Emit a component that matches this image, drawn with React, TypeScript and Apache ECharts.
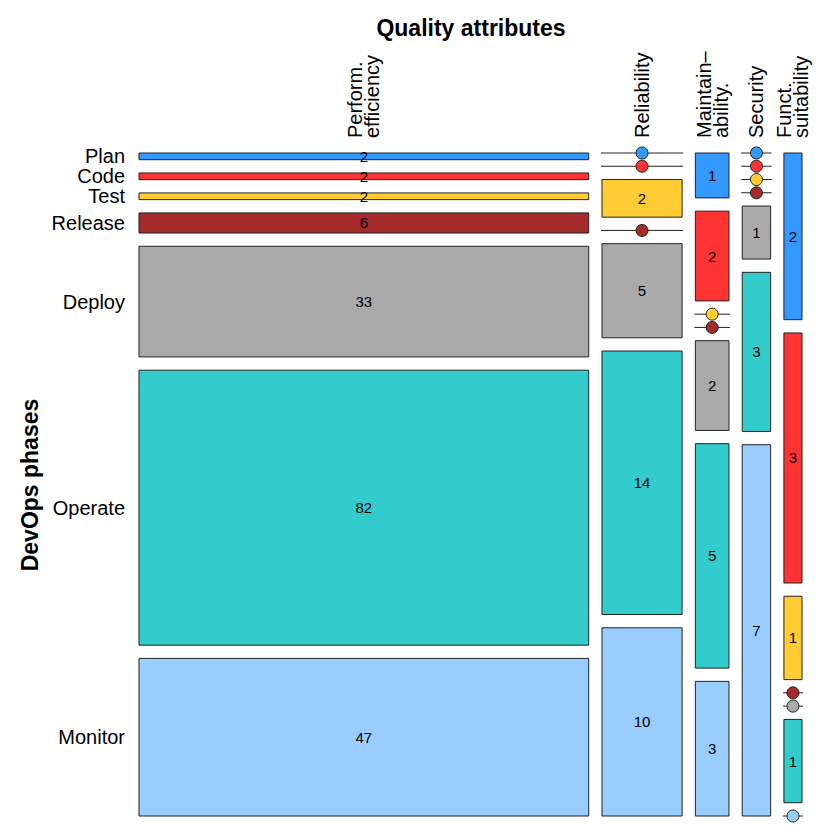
import React, { useEffect, useRef } from 'react';
import * as echarts from 'echarts';

const phases = ['Plan', 'Code', 'Test', 'Release', 'Deploy', 'Operate', 'Monitor'];
const attributes = ['Perform.\nefficiency', 'Reliability', 'Maintain–\nability.', 'Security', 'Funct.\nsuitability'];
const perfEfficiency = [2, 2, 2, 6, 33, 82, 47];
const reliability = [0, 0, 2, 0, 5, 14, 10];
const maintainability = [1, 2, 0, 0, 2, 5, 3];
const security = [0, 0, 0, 0, 1, 3, 7];
const functSuitability = [2, 3, 1, 0, 0, 1, 0];
const phaseColors = ['#3399FF', '#FF3333', '#FFCC33', '#A52A2A', '#AAAAAA', '#33CCCC', '#99CCFF'];

const counts = [perfEfficiency, reliability, maintainability, security, functSuitability];
const GAP = 0.02;
const FONT = '"Liberation Sans", Arial, Helvetica, sans-serif';

function buildCells() {
  const colTotals = counts.map((c) => c.reduce((a, b) => a + b, 0));
  const grand = colTotals.reduce((a, b) => a + b, 0);
  const cells: number[][] = [];
  const colCenters: number[][] = [];
  let x = 0;
  counts.forEach((col, ci) => {
    const w = ((1 - GAP * (counts.length - 1)) * colTotals[ci]) / grand;
    let y = 0;
    col.forEach((v, ri) => {
      const h = ((1 - GAP * (phases.length - 1)) * v) / colTotals[ci];
      cells.push([x, x + w, y, y + h, v, ri, ci]);
      y += h + GAP;
    });
    colCenters.push([x + w / 2, 0, ci]);
    x += w + GAP;
  });
  return { cells, colCenters };
}

export default function App() {
  const ref = useRef<HTMLDivElement>(null);
  useEffect(() => {
    if (!ref.current) return;
    const chart = echarts.init(ref.current, null, { renderer: 'svg' });
    const { cells, colCenters } = buildCells();
    const rowLabels = cells
      .filter((c) => c[6] === 0)
      .map((c) => [c[0], (c[2] + c[3]) / 2, c[5]]);

    chart.setOption({
      animation: false,
      backgroundColor: '#fff',
      grid: { left: 139, top: 153, width: 663, height: 663 },
      xAxis: { type: 'value', min: 0, max: 1, show: false },
      yAxis: { type: 'value', min: 0, max: 1, inverse: true, show: false },
      graphic: [
        {
          type: 'text',
          x: 471,
          y: 28,
          style: {
            text: 'Quality attributes',
            align: 'center',
            verticalAlign: 'middle',
            font: `bold 23px ${FONT}`,
            fill: '#000',
          },
        },
        {
          type: 'text',
          x: 30,
          y: 485,
          rotation: Math.PI / 2,
          style: {
            text: 'DevOps phases',
            align: 'center',
            verticalAlign: 'middle',
            font: `bold 23px ${FONT}`,
            fill: '#000',
          },
        },
      ],
      series: [
        {
          type: 'custom',
          data: cells,
          encode: { x: [0, 1], y: [2, 3] },
          renderItem: (params: any, api: any) => {
            const x0 = api.value(0), x1 = api.value(1), y0 = api.value(2), y1 = api.value(3);
            const v = api.value(4), ri = api.value(5);
            const p0 = api.coord([x0, y0]);
            const p1 = api.coord([x1, y1]);
            const color = phaseColors[ri];
            const cx = (p0[0] + p1[0]) / 2;
            if (v === 0) {
              return {
                type: 'group',
                children: [
                  {
                    type: 'line',
                    shape: { x1: p0[0] - 1, y1: p0[1], x2: p1[0] + 1, y2: p0[1] },
                    style: { stroke: '#222', lineWidth: 1 },
                  },
                  {
                    type: 'circle',
                    shape: { cx, cy: p0[1], r: 6 },
                    style: { fill: color, stroke: '#222', lineWidth: 1 },
                  },
                ],
              };
            }
            const cy = (p0[1] + p1[1]) / 2;
            return {
              type: 'group',
              children: [
                {
                  type: 'rect',
                  shape: { x: p0[0], y: p0[1], width: p1[0] - p0[0], height: p1[1] - p0[1] },
                  style: { fill: color, stroke: '#222', lineWidth: 1 },
                },
                {
                  type: 'text',
                  style: {
                    text: String(v),
                    x: cx,
                    y: cy,
                    align: 'center',
                    verticalAlign: 'middle',
                    font: `15px ${FONT}`,
                    fill: '#000',
                  },
                },
              ],
            };
          },
        },
        {
          type: 'custom',
          data: rowLabels,
          encode: { x: 0, y: 1 },
          renderItem: (params: any, api: any) => {
            const p = api.coord([api.value(0), api.value(1)]);
            return {
              type: 'text',
              style: {
                text: phases[api.value(2)],
                x: p[0] - 14,
                y: p[1],
                align: 'right',
                verticalAlign: 'middle',
                font: `20px ${FONT}`,
                fill: '#000',
              },
            };
          },
        },
        {
          type: 'custom',
          data: colCenters,
          encode: { x: 0, y: 1 },
          renderItem: (params: any, api: any) => {
            const p = api.coord([api.value(0), api.value(1)]);
            return {
              type: 'text',
              x: p[0],
              y: p[1] - 15,
              rotation: Math.PI / 2,
              style: {
                text: attributes[api.value(2)],
                x: 0,
                y: 0,
                align: 'left',
                verticalAlign: 'middle',
                font: `20px ${FONT}`,
                lineHeight: 17,
                fill: '#000',
              },
            };
          },
        },
      ],
    });
    return () => chart.dispose();
  }, []);
  return (
    <div
      ref={ref}
      style={{ position: 'fixed', left: 0, top: 0, width: 830, height: 840 }}
    />
  );
}
